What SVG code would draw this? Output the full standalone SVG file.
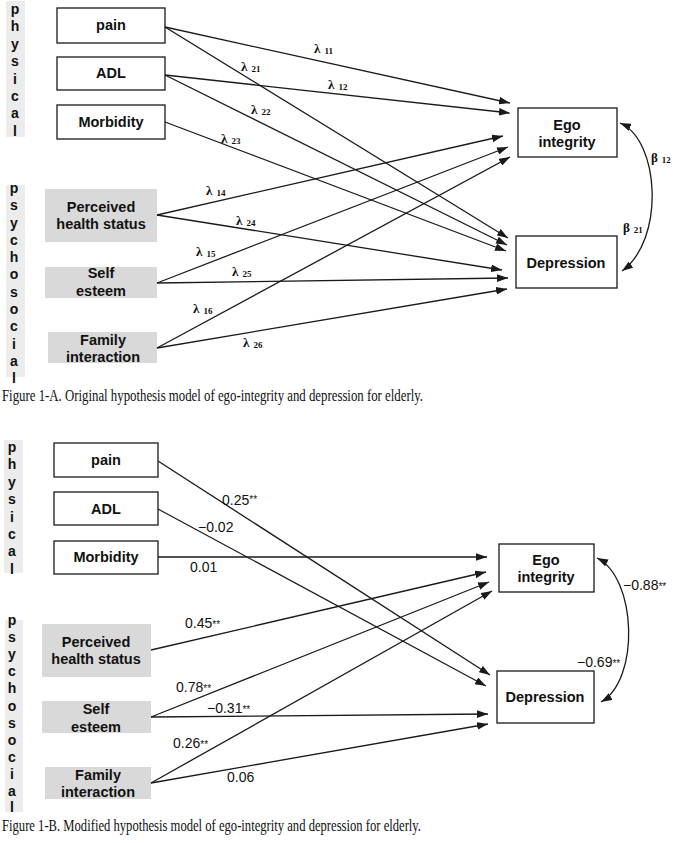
<svg xmlns="http://www.w3.org/2000/svg" width="675" height="843" viewBox="0 0 675 843">
<style>
.bg{fill:#ffffff}
.bar{fill:#ececec}
.box{fill:#ffffff;stroke:#1a1a1a;stroke-width:1.3}
.gbox{fill:#d9d9d9}
.nt{font-family:"Liberation Sans",Arial,sans-serif;font-weight:bold;font-size:14.5px;fill:#111;text-anchor:middle}
.vl{font-family:"Liberation Sans",Arial,sans-serif;font-weight:bold;font-size:14px;fill:#111;text-anchor:middle}
.ln{fill:none;stroke:#1a1a1a;stroke-width:1.3}
.lam{font-family:"Liberation Serif",serif;font-weight:bold;font-size:13px;fill:#111}
.sub{font-size:9px}
.num{font-family:"Liberation Sans",sans-serif;font-size:14px;fill:#111}
.ast{font-size:10px}
.cap{font-family:"Liberation Serif",serif;font-size:16.5px;fill:#111}
</style>
<defs>
<marker id="ah" viewBox="0 0 10 7" refX="10" refY="3.5" markerWidth="11" markerHeight="7.7" markerUnits="userSpaceOnUse" orient="auto-start-reverse">
<path d="M0,0 L10,3.5 L0,7 z" fill="#1a1a1a"/>
</marker>
</defs>
<rect class="bg" x="0" y="0" width="675" height="843"/>

<!-- ===== Figure 1-A ===== -->
<g id="A-physical-label">
<rect class="bar" x="6" y="1" width="19" height="136"/>
<text class="vl" x="15" y="14">p</text>
<text class="vl" x="15" y="31.4">h</text>
<text class="vl" x="15" y="48.8">y</text>
<text class="vl" x="15" y="66.2">s</text>
<text class="vl" x="15" y="83.6">i</text>
<text class="vl" x="15" y="101">c</text>
<text class="vl" x="15" y="118.4">a</text>
<text class="vl" x="15" y="135.8">l</text>
</g>
<g id="A-psychosocial-label">
<rect class="bar" x="6" y="185" width="19" height="192"/>
<text class="vl" x="14" y="193">p</text>
<text class="vl" x="14" y="210.3">s</text>
<text class="vl" x="14" y="227.5">y</text>
<text class="vl" x="14" y="244.8">c</text>
<text class="vl" x="14" y="262.1">h</text>
<text class="vl" x="14" y="279.4">o</text>
<text class="vl" x="14" y="296.6">s</text>
<text class="vl" x="14" y="313.9">o</text>
<text class="vl" x="14" y="331.2">c</text>
<text class="vl" x="14" y="348.5">i</text>
<text class="vl" x="14" y="365.7">a</text>
<text class="vl" x="14" y="383">l</text>
</g>
<g id="A-pain"><rect class="box" x="57" y="8" width="108" height="35"/><text class="nt" x="111" y="30">pain</text></g>
<g id="A-adl"><rect class="box" x="57" y="57" width="108" height="33"/><text class="nt" x="111" y="78">ADL</text></g>
<g id="A-morbidity"><rect class="box" x="57" y="105" width="108" height="34"/><text class="nt" x="111" y="127">Morbidity</text></g>
<g id="A-perceived"><rect class="gbox" x="45" y="189" width="112" height="53"/><text class="nt" x="101" y="212">Perceived</text><text class="nt" x="101" y="229">health  status</text></g>
<g id="A-self"><rect class="gbox" x="45" y="267" width="112" height="31"/><text class="nt" x="101" y="278">Self</text><text class="nt" x="101" y="296">esteem</text></g>
<g id="A-family"><rect class="gbox" x="48" y="332" width="109" height="31"/><text class="nt" x="103" y="345">Family</text><text class="nt" x="103" y="362">interaction</text></g>
<g id="A-ego"><rect class="box" x="518" y="108" width="99" height="49"/><text class="nt" x="567" y="130">Ego</text><text class="nt" x="567" y="147">integrity</text></g>
<g id="A-depression"><rect class="box" x="516" y="236" width="101" height="52"/><text class="nt" x="566" y="268">Depression</text></g>

<g id="A-connectors">
<line class="ln" x1="165" y1="27" x2="510" y2="103" marker-end="url(#ah)"/>
<line class="ln" x1="165" y1="75" x2="510" y2="113" marker-end="url(#ah)"/>
<line class="ln" x1="157" y1="215" x2="503" y2="136" marker-end="url(#ah)"/>
<line class="ln" x1="157" y1="283" x2="508" y2="147" marker-end="url(#ah)"/>
<line class="ln" x1="157" y1="348" x2="510" y2="157" marker-end="url(#ah)"/>
<line class="ln" x1="165" y1="27" x2="508" y2="238" marker-end="url(#ah)"/>
<line class="ln" x1="165" y1="75" x2="507" y2="245" marker-end="url(#ah)"/>
<line class="ln" x1="165" y1="122" x2="506" y2="251" marker-end="url(#ah)"/>
<line class="ln" x1="157" y1="215" x2="502" y2="270" marker-end="url(#ah)"/>
<line class="ln" x1="157" y1="283" x2="508" y2="278" marker-end="url(#ah)"/>
<line class="ln" x1="157" y1="348" x2="507" y2="289" marker-end="url(#ah)"/>
<path class="ln" d="M620,123 C660,140 665,240 622,271" marker-start="url(#ah)" marker-end="url(#ah)"/>
</g>
<g id="A-labels">
<text class="lam" x="314" y="53">λ<tspan class="sub" dx="4" dy="1">11</tspan></text>
<text class="lam" x="241" y="71">λ<tspan class="sub" dx="4" dy="1">21</tspan></text>
<text class="lam" x="328" y="89">λ<tspan class="sub" dx="4" dy="1">12</tspan></text>
<text class="lam" x="251" y="114">λ<tspan class="sub" dx="4" dy="1">22</tspan></text>
<text class="lam" x="221" y="143">λ<tspan class="sub" dx="4" dy="1">23</tspan></text>
<text class="lam" x="206" y="195">λ<tspan class="sub" dx="4" dy="1">14</tspan></text>
<text class="lam" x="236" y="225">λ<tspan class="sub" dx="4" dy="1">24</tspan></text>
<text class="lam" x="196" y="256">λ<tspan class="sub" dx="4" dy="1">15</tspan></text>
<text class="lam" x="232" y="276">λ<tspan class="sub" dx="4" dy="1">25</tspan></text>
<text class="lam" x="193" y="313">λ<tspan class="sub" dx="4" dy="1">16</tspan></text>
<text class="lam" x="243" y="347">λ<tspan class="sub" dx="4" dy="1">26</tspan></text>
<text class="lam" x="651" y="162">β<tspan class="sub" dx="4" dy="1">12</tspan></text>
<text class="lam" x="623" y="232">β<tspan class="sub" dx="4" dy="1">21</tspan></text>
</g>
<text class="cap" x="2" y="401" textLength="421" lengthAdjust="spacingAndGlyphs">Figure 1-A. Original hypothesis model of ego-integrity and depression for elderly.</text>

<!-- ===== Figure 1-B ===== -->
<g id="B-physical-label">
<rect class="bar" x="4" y="440" width="19" height="133"/>
<text class="vl" x="12" y="452">p</text>
<text class="vl" x="12" y="469.4">h</text>
<text class="vl" x="12" y="486.8">y</text>
<text class="vl" x="12" y="504.2">s</text>
<text class="vl" x="12" y="521.6">i</text>
<text class="vl" x="12" y="539">c</text>
<text class="vl" x="12" y="556.4">a</text>
<text class="vl" x="12" y="573.8">l</text>
</g>
<g id="B-psychosocial-label">
<rect class="bar" x="5" y="620" width="18" height="192"/>
<text class="vl" x="12" y="625">p</text>
<text class="vl" x="12" y="642.1">s</text>
<text class="vl" x="12" y="659.2">y</text>
<text class="vl" x="12" y="676.3">c</text>
<text class="vl" x="12" y="693.4">h</text>
<text class="vl" x="12" y="710.5">o</text>
<text class="vl" x="12" y="727.5">s</text>
<text class="vl" x="12" y="744.6">o</text>
<text class="vl" x="12" y="761.7">c</text>
<text class="vl" x="12" y="778.8">i</text>
<text class="vl" x="12" y="795.9">a</text>
<text class="vl" x="12" y="812">l</text>
</g>
<g id="B-pain"><rect class="box" x="54" y="443" width="104" height="34"/><text class="nt" x="106" y="465">pain</text></g>
<g id="B-adl"><rect class="box" x="54" y="492" width="104" height="33"/><text class="nt" x="106" y="514">ADL</text></g>
<g id="B-morbidity"><rect class="box" x="54" y="541" width="104" height="33"/><text class="nt" x="106" y="562">Morbidity</text></g>
<g id="B-perceived"><rect class="gbox" x="42" y="624" width="109" height="53"/><text class="nt" x="96" y="647">Perceived</text><text class="nt" x="96" y="664">health  status</text></g>
<g id="B-self"><rect class="gbox" x="42" y="701" width="109" height="32"/><text class="nt" x="96" y="714">Self</text><text class="nt" x="96" y="732">esteem</text></g>
<g id="B-family"><rect class="gbox" x="45" y="767" width="106" height="32"/><text class="nt" x="98" y="780">Family</text><text class="nt" x="98" y="797">interaction</text></g>
<g id="B-ego"><rect class="box" x="499" y="544" width="95" height="48"/><text class="nt" x="546" y="565">Ego</text><text class="nt" x="546" y="582">integrity</text></g>
<g id="B-depression"><rect class="box" x="497" y="671" width="97" height="52"/><text class="nt" x="545" y="702">Depression</text></g>

<g id="B-connectors">
<line class="ln" x1="158" y1="557" x2="487" y2="557" marker-end="url(#ah)"/>
<line class="ln" x1="151" y1="650" x2="486" y2="572" marker-end="url(#ah)"/>
<line class="ln" x1="151" y1="717" x2="489" y2="582" marker-end="url(#ah)"/>
<line class="ln" x1="151" y1="783" x2="492" y2="591" marker-end="url(#ah)"/>
<line class="ln" x1="158" y1="461" x2="490" y2="675" marker-end="url(#ah)"/>
<line class="ln" x1="158" y1="509" x2="486" y2="686" marker-end="url(#ah)"/>
<line class="ln" x1="151" y1="717" x2="488" y2="714" marker-end="url(#ah)"/>
<line class="ln" x1="151" y1="783" x2="488" y2="724" marker-end="url(#ah)"/>
<path class="ln" d="M597,558 C637,578 640,680 601,702" marker-start="url(#ah)" marker-end="url(#ah)"/>
</g>
<g id="B-labels">
<text class="num" x="222" y="505">0.25<tspan class="ast" dy="-2">**</tspan></text>
<text class="num" x="198" y="532">−0.02</text>
<text class="num" x="190" y="572">0.01</text>
<text class="num" x="185" y="628">0.45<tspan class="ast">**</tspan></text>
<text class="num" x="176" y="692">0.78<tspan class="ast">**</tspan></text>
<text class="num" x="207" y="713">−0.31<tspan class="ast">**</tspan></text>
<text class="num" x="173" y="748">0.26<tspan class="ast">**</tspan></text>
<text class="num" x="227" y="782">0.06</text>
<text class="num" x="623" y="590">−0.88<tspan class="ast">**</tspan></text>
<text class="num" x="577" y="667">−0.69<tspan class="ast">**</tspan></text>
</g>
<text class="cap" x="2" y="831" textLength="419" lengthAdjust="spacingAndGlyphs">Figure 1-B. Modified hypothesis model of ego-integrity and depression for elderly.</text>
</svg>
